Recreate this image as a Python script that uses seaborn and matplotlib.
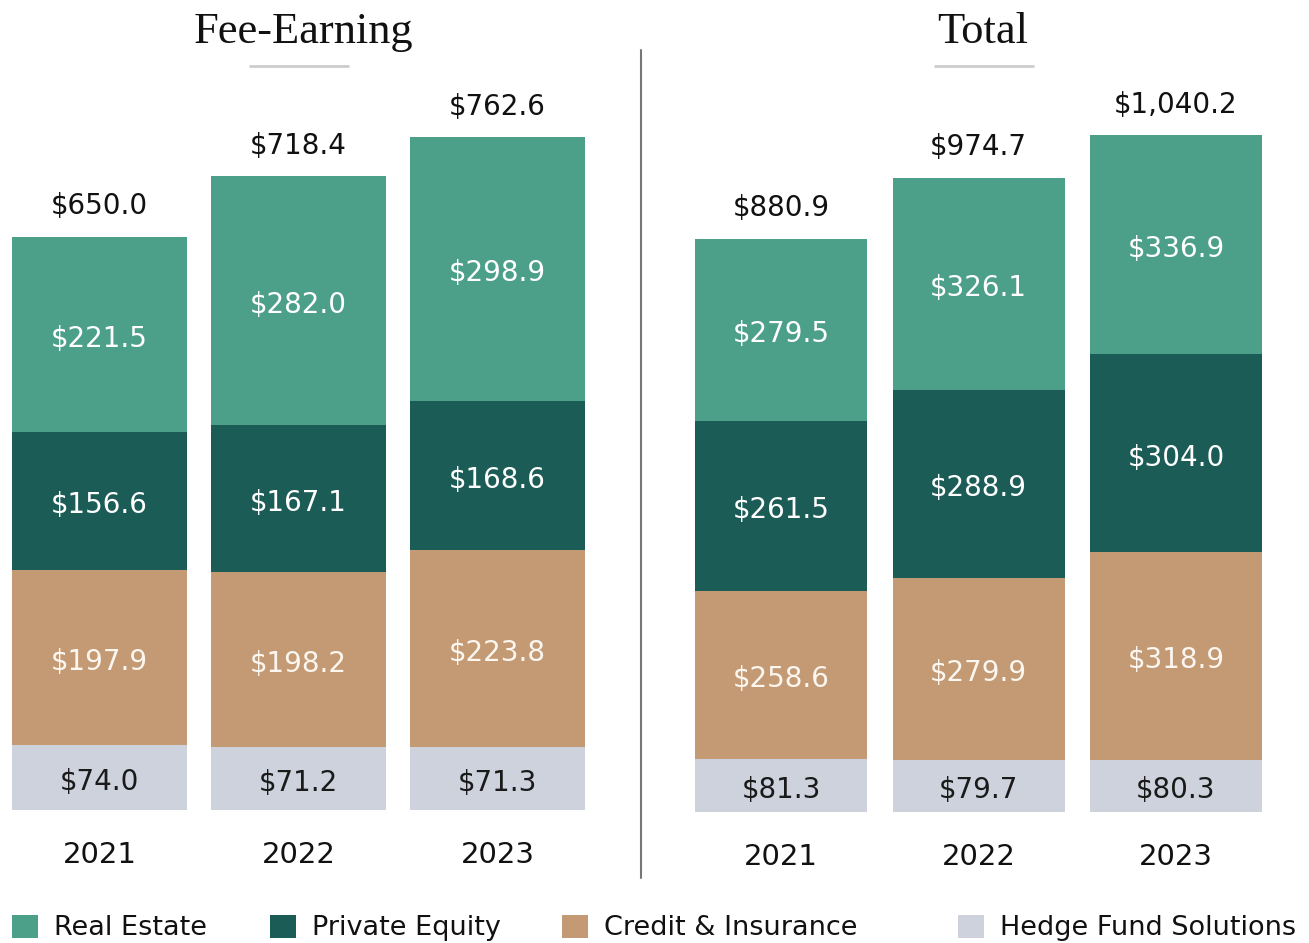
import matplotlib
matplotlib.use("Agg")
import matplotlib.pyplot as plt
import seaborn as sns
import pandas as pd
import numpy as np
from matplotlib.patches import Patch
from matplotlib.lines import Line2D

years = ["2021", "2022", "2023"]
categories = ["Real Estate", "Private Equity", "Credit & Insurance", "Hedge Fund Solutions"]

fee_real_estate = [221.5, 282.0, 298.9]
fee_private_equity = [156.6, 167.1, 168.6]
fee_credit = [197.9, 198.2, 223.8]
fee_hedge = [74.0, 71.2, 71.3]
fee_totals = ["$650.0", "$718.4", "$762.6"]

tot_real_estate = [279.5, 326.1, 336.9]
tot_private_equity = [261.5, 288.9, 304.0]
tot_credit = [258.6, 279.9, 318.9]
tot_hedge = [81.3, 79.7, 80.3]
tot_totals = ["$880.9", "$974.7", "$1,040.2"]

colors = {
    "Real Estate": "#4c9f89",
    "Private Equity": "#1c5c57",
    "Credit & Insurance": "#c39a73",
    "Hedge Fund Solutions": "#cdd2dc",
}
label_colors = {
    "Real Estate": "white",
    "Private Equity": "white",
    "Credit & Insurance": "#fbf6f0",
    "Hedge Fund Solutions": "#1a1a1a",
}

sns.set_theme(style="white")
plt.rcParams["font.family"] = ["DejaVu Sans"]

W, H = 1309, 943
fig = plt.figure(figsize=(W / 100, H / 100), dpi=100)


def px_axes(x0, x1, ytop, ybot):
    return fig.add_axes([x0 / W, 1 - ybot / H, (x1 - x0) / W, (ybot - ytop) / H])


def panel(ax, series, totals, width, ymax):
    order = ["Hedge Fund Solutions", "Credit & Insurance", "Private Equity", "Real Estate"]
    vals = {
        "Real Estate": series[0],
        "Private Equity": series[1],
        "Credit & Insurance": series[2],
        "Hedge Fund Solutions": series[3],
    }
    cum = np.zeros(len(years))
    tops = {}
    bottoms = {}
    for cat in order:
        bottoms[cat] = cum.copy()
        cum = cum + np.array(vals[cat])
        tops[cat] = cum.copy()
    for cat in reversed(order):
        df = pd.DataFrame({"year": years, "value": tops[cat]})
        sns.barplot(data=df, x="year", y="value", order=years, color=colors[cat],
                    width=width, saturation=1, ax=ax, linewidth=0, errorbar=None)
    for cat in order:
        for i in range(len(years)):
            mid = (bottoms[cat][i] + tops[cat][i]) / 2
            ax.annotate(f"${vals[cat][i]:.1f}", xy=(i, mid), xytext=(0, -3),
                        textcoords="offset points", ha="center", va="center",
                        fontsize=20, color=label_colors[cat])
    for i in range(len(years)):
        ax.annotate(totals[i], xy=(i, tops["Real Estate"][i]), xytext=(0, 22),
                    textcoords="offset points", ha="center", va="center",
                    fontsize=20, color="#111111")
    ax.set_xlim(-width / 2, len(years) - 1 + width / 2)
    ax.set_ylim(0, ymax)
    ax.set_xlabel("")
    ax.set_ylabel("")
    ax.set_yticks([])
    ax.tick_params(axis="x", length=0, labelsize=21, pad=22, colors="#111111")
    sns.despine(ax=ax, left=True, bottom=True)
    ax.patch.set_alpha(0)


ax1 = px_axes(12, 585, 100, 810)
panel(ax1, [fee_real_estate, fee_private_equity, fee_credit, fee_hedge], fee_totals,
      175 / 199, 710 / 0.882)

ax2 = px_axes(695, 1262, 100, 812)
panel(ax2, [tot_real_estate, tot_private_equity, tot_credit, tot_hedge], tot_totals,
      172 / 197.5, 712 / 0.6507)

# titles
fig.text(303 / W, 1 - 32 / H, "Fee-Earning", ha="center", va="center",
         fontsize=32, family="Liberation Serif", color="#111111")
fig.text(983 / W, 1 - 32 / H, "Total", ha="center", va="center",
         fontsize=32, family="Liberation Serif", color="#111111")
fig.add_artist(Line2D([250 / W, 348 / W], [1 - 66 / H, 1 - 66 / H], color="#cccccc", lw=2))
fig.add_artist(Line2D([935 / W, 1033 / W], [1 - 66 / H, 1 - 66 / H], color="#cccccc", lw=2))
# divider
fig.add_artist(Line2D([641 / W, 641 / W], [1 - 50 / H, 1 - 878 / H], color="#777777", lw=1.5))

# legend entries
leg_x = [12, 270, 562, 958]
for cat, x in zip(categories, leg_x):
    lg = fig.legend(handles=[Patch(facecolor=colors[cat], edgecolor="none")], labels=[cat],
                    loc="center left", bbox_to_anchor=(x / W, 1 - 928 / H), frameon=False,
                    fontsize=19.5, handlelength=0.95, handleheight=0.95, handletextpad=0.6,
                    borderaxespad=0, borderpad=0)
    for t in lg.get_texts():
        t.set_color("#111111")

fig.savefig("out.png", dpi=100)
